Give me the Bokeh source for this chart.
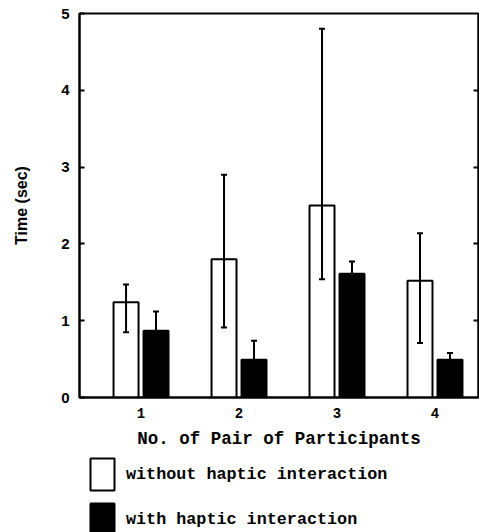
from bokeh.plotting import figure
from bokeh.models import (ColumnDataSource, Range1d, Whisker, TeeHead, LinearAxis,
                          FixedTicker, Legend, LegendItem)
from bokeh.layouts import column
from bokeh.embed import file_html
from bokeh.resources import INLINE

# ---- data ----
pairs = [1, 2, 3, 4]
pair_labels = ["1", "2", "3", "4"]
without_mean = [1.24, 1.80, 2.50, 1.52]
without_upper = [1.47, 2.90, 4.80, 2.14]
without_lower = [0.85, 0.91, 1.54, 0.71]
with_mean = [0.87, 0.49, 1.61, 0.49]
with_upper = [1.12, 0.74, 1.77, 0.58]
with_lower = [0.62, 0.24, 1.45, 0.40]
series_names = ["without haptic interaction", "with haptic interaction"]
y_ticks = [0, 1, 2, 3, 4, 5]

OFF = 0.153
BW = 0.255

src_wo = ColumnDataSource(dict(x=[c - OFF for c in pairs], top=without_mean,
                               upper=without_upper, lower=without_lower))
src_w = ColumnDataSource(dict(x=[c + OFF for c in pairs], top=with_mean,
                              upper=with_upper, lower=with_lower))

p = figure(width=479, height=454, output_backend="svg", toolbar_location=None,
           x_range=Range1d(0.372, 4.444), y_range=Range1d(0, 5),
           min_border_left=79, min_border_right=1, min_border_top=13,
           min_border_bottom=57)
p.xgrid.visible = False
p.ygrid.visible = False
p.outline_line_color = "black"
p.outline_line_width = 2
p.background_fill_color = "white"
p.border_fill_color = "white"

WHITE_STYLE = dict(fill_color="white", line_color="black", line_width=2)
BLACK_STYLE = dict(fill_color="black", line_color="black", line_width=2)

p.vbar(x="x", top="top", width=BW, bottom=0, source=src_wo, **WHITE_STYLE)
p.vbar(x="x", top="top", width=BW, bottom=0, source=src_w, **BLACK_STYLE)

for src in (src_wo, src_w):
    wk = Whisker(base="x", upper="upper", lower="lower", source=src, level="overlay",
                 line_color="black", line_width=2,
                 upper_head=TeeHead(size=6, line_width=2, line_color="black"),
                 lower_head=TeeHead(size=6, line_width=2, line_color="black"))
    p.add_layout(wk)

# x axis
p.xaxis.ticker = FixedTicker(ticks=pairs)
p.xaxis.major_label_overrides = {c: l for c, l in zip(pairs, pair_labels)}
p.xaxis.major_tick_in = 0
p.xaxis.major_tick_out = 0
p.xaxis.minor_tick_line_color = None
p.xaxis.axis_line_width = 2
p.xaxis.major_label_standoff = 10
p.xaxis.major_label_text_font = "Liberation Mono"
p.xaxis.major_label_text_font_style = "bold"
p.xaxis.major_label_text_font_size = "14px"
p.xaxis.major_label_text_color = "black"
p.xaxis.axis_label = "No. of Pair of Participants"
p.xaxis.axis_label_text_font = "Liberation Mono"
p.xaxis.axis_label_text_font_style = "bold"
p.xaxis.axis_label_text_font_size = "17.5px"
p.xaxis.axis_label_text_color = "black"
p.xaxis.axis_label_standoff = 8

# y axis
p.yaxis.ticker = FixedTicker(ticks=y_ticks)
p.yaxis.major_tick_in = 5
p.yaxis.major_tick_out = 0
p.yaxis.major_tick_line_width = 2
p.yaxis.minor_tick_line_color = None
p.yaxis.axis_line_width = 2
p.yaxis.major_label_standoff = 10
p.yaxis.major_label_text_font = "Liberation Sans"
p.yaxis.major_label_text_font_style = "bold"
p.yaxis.major_label_text_font_size = "15px"
p.yaxis.major_label_text_color = "black"
p.yaxis.axis_label = "Time (sec)"
p.yaxis.axis_label_text_font = "Liberation Sans"
p.yaxis.axis_label_text_font_style = "bold"
p.yaxis.axis_label_text_font_size = "16px"
p.yaxis.axis_label_text_color = "black"
p.yaxis.axis_label_standoff = 28

# right axis with inward ticks only
ra = LinearAxis(ticker=FixedTicker(ticks=y_ticks[1:-1]), major_tick_in=5, major_tick_out=0,
                major_tick_line_width=2, minor_tick_line_color=None,
                major_label_overrides={t: "" for t in y_ticks[1:-1]},
                major_label_standoff=0, axis_line_width=2)
p.add_layout(ra, "right")

# ---- legend panel (separate small figure below the chart) ----
lg = figure(width=479, height=78, output_backend="svg", toolbar_location=None,
            x_range=Range1d(-101, -100), y_range=Range1d(-101, -100),
            min_border_left=0, min_border_right=0, min_border_top=0, min_border_bottom=0)
lg.axis.visible = False
lg.grid.visible = False
lg.outline_line_color = None
lg.background_fill_color = "white"
lg.border_fill_color = "white"
# same series, hidden in this panel; used only for the legend swatches
d_wo = lg.vbar(x="x", top="top", width=BW, source=src_wo, visible=False, **WHITE_STYLE)
d_w = lg.vbar(x="x", top="top", width=BW, source=src_w, visible=False, **BLACK_STYLE)

common = dict(orientation="vertical", glyph_width=30, glyph_height=40, label_standoff=9,
              padding=0, margin=0, border_line_alpha=0, background_fill_alpha=0,
              inactive_fill_alpha=0,
              label_text_font="Liberation Mono", label_text_font_style="bold",
              label_text_font_size="16.75px", label_text_color="black")
leg1 = Legend(items=[LegendItem(label=series_names[0], renderers=[d_wo], index=0)],
              location=(8, 38), **common)
leg2 = Legend(items=[LegendItem(label=series_names[1], renderers=[d_w], index=0)],
              location=(8, -7), **common)
lg.add_layout(leg1, "center")
lg.add_layout(leg2, "center")

layout = column(p, lg, spacing=0)
open("out.html", "w").write(file_html(layout, INLINE))
